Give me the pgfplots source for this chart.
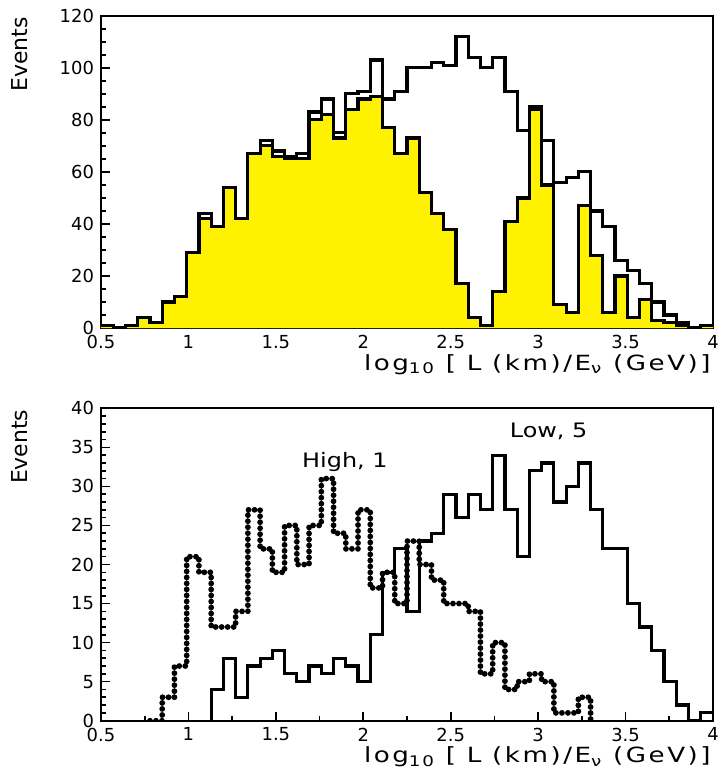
\documentclass[border=0pt]{standalone}
\usepackage{fontspec}
\setmainfont{DejaVu Sans}
\newfontfamily\widefont{DejaVu Sans}[FakeStretch=1.2]
\newfontfamily\xlabfont{DejaVu Sans}[FakeStretch=1.25, LetterSpace=12]
\usepackage{pgfplots}
\usepackage{pgfplotstable}
\pgfplotsset{compat=1.18}

% left bin edges (width 0.07); last row closes the final bin
\pgfplotstableread{
x    total sel
0.50 1   1
0.57 0   0
0.64 1   1
0.71 4   4
0.78 2   2
0.85 10  10
0.92 12  12
0.99 29  29
1.06 44  42
1.13 39  39
1.20 54  54
1.27 42  42
1.34 67  67
1.41 72  70
1.48 68  66
1.55 66  65
1.62 67  65
1.69 83  80
1.76 88  82
1.83 75  73
1.90 90  84
1.97 91  88
2.04 103 89
2.11 88  77
2.18 91  67
2.25 100 73
2.32 100 52
2.39 102 44
2.46 101 38
2.53 112 17
2.60 104 4
2.67 100 1
2.74 104 14
2.81 91  41
2.88 76  50
2.95 85  84
3.02 72  55
3.09 56  9
3.16 58  6
3.23 60  47
3.30 45  28
3.37 39  6
3.44 26  20
3.51 22  4
3.58 17  11
3.65 10  3
3.72 5   2
3.79 2   1
3.86 0   0
3.93 1   1
4.00 1   1
}\topdata

\pgfplotstableread{
x    y
0.78 0
0.85 3
0.92 7
0.99 21
1.06 19
1.13 12
1.20 12
1.27 14
1.34 27
1.41 22
1.48 19
1.55 25
1.62 20
1.69 25
1.76 31
1.83 24
1.90 22
1.97 27
2.04 17
2.11 19
2.18 15
2.25 23
2.32 20
2.39 18
2.46 15
2.53 15
2.60 14
2.67 6
2.74 10
2.81 4
2.88 5
2.95 6
3.02 5
3.09 1
3.16 1
3.23 3
3.30 0
}\highdata

\pgfplotstableread{
x    y
1.13 0
1.13 4
1.20 8
1.27 3
1.34 7
1.41 8
1.48 9
1.55 6
1.62 5
1.69 7
1.76 6
1.83 8
1.90 7
1.97 5
2.04 11
2.11 19
2.18 22
2.25 14
2.32 23
2.39 24
2.46 29
2.53 26
2.60 29
2.67 27
2.74 34
2.81 27
2.88 21
2.95 32
3.02 33
3.09 28
3.16 30
3.23 33
3.30 27
3.37 22
3.44 22
3.51 15
3.58 12
3.65 9
3.72 5
3.79 2
3.86 0
3.93 1
4.00 1
}\lowdata

\pgfplotsset{
  panel/.style={
    scale only axis, width=306bp, height=156.2bp,
    xmin=0.5, xmax=4,
    xtick={0.5,1,1.5,2,2.5,3,3.5,4}, minor x tick num=1,
    tick align=inside, xtick pos=bottom, ytick pos=left,
    major tick length=4.5bp, minor tick length=2.5bp,
    axis line style={line width=0.9bp},
    every tick/.style={black, line width=0.8bp},
    tick label style={font=\fontsize{9}{10}\selectfont},
    /pgf/number format/assume math mode=true,
    xlabel={\xlabfont log\textsubscript{10} [ L (km)/E\textsubscript{ν} (GeV)]},
    xlabel style={at={(rel axis cs:1,0)}, anchor=north east,
      yshift=-13bp, xshift=-1bp, inner sep=0pt,
      font=\fontsize{10.5}{12}\selectfont},
  },
  hist/.style={const plot, black, line width=1.6bp},
}

\begin{document}
\begin{tikzpicture}
\path[use as bounding box] (-50.5bp,7.85bp) rectangle (309bp,-379.15bp);

\begin{axis}[panel, at={(0,0)}, anchor=north west,
  ymin=0, ymax=120, ytick={0,20,...,120}, minor y tick num=3]
  \addplot[const plot, fill=yellow, draw=none] table[x=x, y=sel] {\topdata} \closedcycle;
  \addplot[hist] table[x=x, y=sel] {\topdata};
  \addplot[hist] table[x=x, y=total] {\topdata};
\end{axis}

\begin{axis}[panel, at={(0,-196.3bp)}, anchor=north west,
  ymin=0, ymax=40, ytick={0,5,...,40}, minor y tick num=4]
  \addplot[hist] table[x=x, y=y] {\lowdata};
  \addplot[const plot, black, line width=2.9bp, line cap=round,
    dash pattern=on 0pt off 3bp] table[x=x, y=y] {\highdata};
  \node[font=\widefont\fontsize{10}{12}\selectfont] at (axis cs:1.895,33.1) {High, 1};
  \node[font=\widefont\fontsize{10}{12}\selectfont] at (axis cs:3.06,37.0) {Low, 5};
\end{axis}

\node[rotate=90, anchor=south east, inner sep=0pt, font=\fontsize{11}{12}\selectfont]
  at (-36.5bp,-0.5bp) {Events};
\node[rotate=90, anchor=south east, inner sep=0pt, font=\fontsize{11}{12}\selectfont]
  at (-36.5bp,-196.8bp) {Events};
\end{tikzpicture}
\end{document}
